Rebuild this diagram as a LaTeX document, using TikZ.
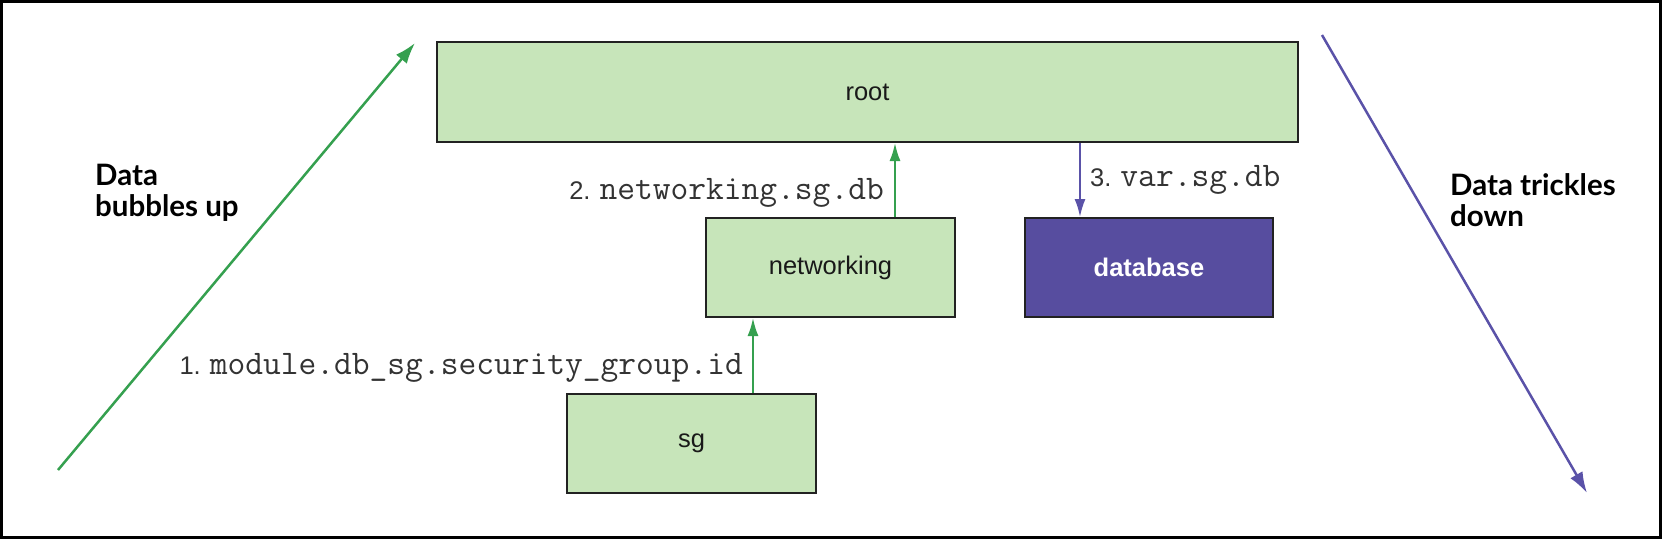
\documentclass[tikz,border=0pt]{standalone}
\usepackage{fontspec}
\setmainfont{Liberation Sans}
\newfontfamily\latof{Lato}
\usetikzlibrary{arrows.meta}
\definecolor{boxgreen}{HTML}{C7E5BA}
\definecolor{arrgreen}{HTML}{35A04F}
\definecolor{dbpurple}{HTML}{574D9F}
\definecolor{arrpurple}{HTML}{5A52A8}
\definecolor{edge}{HTML}{222222}
\definecolor{labgray}{HTML}{333333}
\newcommand{\numf}{\fontsize{25.5}{28}\selectfont}
\newcommand{\codef}{\ttfamily\fontsize{34.5}{37}\selectfont}
\begin{document}
\begin{tikzpicture}[x=1pt,y=-1pt,
  gbox/.style={draw=edge, line width=2pt, fill=boxgreen, inner sep=0pt,
    font=\fontsize{25.5}{30}\selectfont, text=black!90},
  pbox/.style={draw=edge, line width=2pt, fill=dbpurple, inner sep=0pt,
    font=\fontsize{25.5}{30}\selectfont\bfseries, text=white},
  garrow/.style={draw=arrgreen, line width=2pt, -{Latex[length=18pt,width=11pt]}},
  parrow/.style={draw=arrpurple, line width=2pt, -{Latex[length=18pt,width=11pt]}},
  gdiag/.style={draw=arrgreen, line width=2.5pt, -{Latex[length=21pt,width=14pt]}},
  pdiag/.style={draw=arrpurple, line width=2.5pt, -{Latex[length=21pt,width=14pt]}},
  lab/.style={inner sep=0pt, text=labgray},
  side/.style={inner sep=0pt, align=left, text=black,
    font=\latof\bfseries\fontsize{29.5}{31}\selectfont}
]
\useasboundingbox (0,0) rectangle (1662,539);
\draw[line width=3pt, black] (1.5,1.5) rectangle (1660.5,537.5);

% boxes
\node[gbox, minimum width=861pt, minimum height=100pt] (root) at (867.5,92) {root};
\node[gbox, minimum width=249pt, minimum height=99pt] (networking) at (830.5,267.5) {networking};
\node[pbox, minimum width=248pt, minimum height=99pt] (database) at (1149,267.5) {database};
\node[gbox, minimum width=249pt, minimum height=99pt] (sg) at (691.5,443.5) {sg};

% vertical connectors
\coordinate (c1) at (753,0);
\coordinate (c2) at (895,0);
\coordinate (c3) at (1080,0);
\draw[garrow] (c1 |- sg.north) -- (c1 |- networking.south);
\draw[garrow] (c2 |- networking.north) -- (c2 |- root.south);
\draw[parrow] (c3 |- root.south) -- (c3 |- database.north);

% labels
\node[lab, anchor=east] (l1) at (743,368)
  {{\numf 1.}\hspace{9pt}{\codef module.db\_sg.security\_group.id}};
\node[lab, anchor=east] (l2) at (884,193)
  {{\numf 2.}\hspace{9pt}{\codef networking.sg.db}};
\node[lab, anchor=west] (l3) at (1090,180)
  {{\numf 3.}\hspace{9pt}{\codef var.sg.db}};

% diagonal arrows
\coordinate (ga) at (58,470);
\coordinate (gb) at (415,43);
\coordinate (pa) at (1322,35);
\coordinate (pb) at (1587,493);
\draw[gdiag] (ga) -- (gb);
\draw[pdiag] (pa) -- (pb);

% side texts
\node[side, anchor=north west] (up) at (95,164) {Data\\bubbles up};
\node[side, anchor=north west] (down) at (1450,173) {Data trickles\\down};
\end{tikzpicture}
\end{document}
